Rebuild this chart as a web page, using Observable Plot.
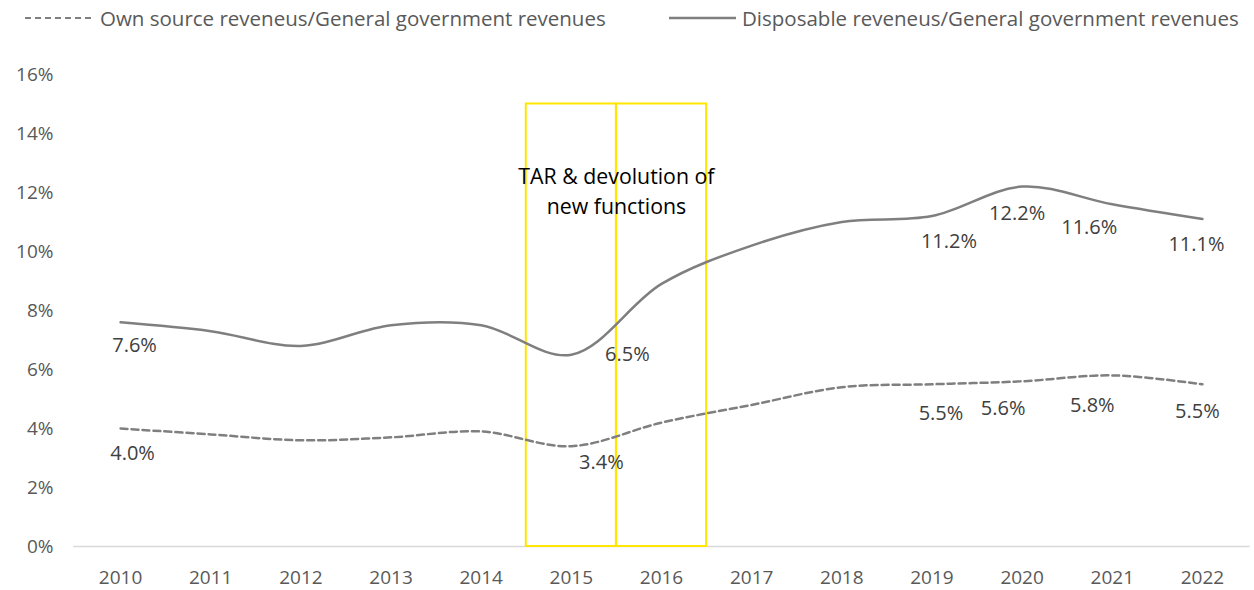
<!DOCTYPE html>
<html>
<head>
<meta charset="utf-8">
<script src="https://cdn.jsdelivr.net/npm/d3@7"></script>
<script src="https://cdn.jsdelivr.net/npm/@observablehq/plot@0.6"></script>
<style>
  html, body { margin: 0; padding: 0; background: #fff; }
  body { width: 1254px; height: 590px; overflow: hidden; font-family: "Open Sans", sans-serif; }
  #legend { position: relative; height: 30px; }
  .item { position: absolute; top: 6px; display: flex; align-items: center; color: #595959; font-size: 20.5px; line-height: 24px; white-space: nowrap; }
  .item svg { margin-right: 6px; }
  #chart svg { display: block; }
</style>
</head>
<body>
<div id="legend"></div>
<div id="chart"></div>
<script>
// ---- data ----
const years = [2010, 2011, 2012, 2013, 2014, 2015, 2016, 2017, 2018, 2019, 2020, 2021, 2022];
const ownSource = [4.0, 3.8, 3.6, 3.7, 3.9, 3.4, 4.2, 4.8, 5.4, 5.5, 5.6, 5.8, 5.5];
const disposable = [7.6, 7.3, 6.8, 7.5, 7.5, 6.5, 8.9, 10.2, 11.0, 11.2, 12.2, 11.6, 11.1];
const labelledYears = [2010, 2015, 2019, 2020, 2021, 2022];
const seriesNames = ["Own source reveneus/General government revenues", "Disposable reveneus/General government revenues"];
const highlightYears = [2015, 2016];
const highlightTop = 15;
const annotation = "TAR & devolution of\nnew functions";
const yTicks = [0, 2, 4, 6, 8, 10, 12, 14, 16];

// ---- tables ----
const rows = [];
years.forEach((yr, i) => {
  rows.push({year: yr, value: ownSource[i], series: seriesNames[0]});
  rows.push({year: yr, value: disposable[i], series: seriesNames[1]});
});
const labelRows = rows.filter(d => labelledYears.includes(d.year));
const spans = highlightYears.map(y => ({x1: y - 0.5, x2: y + 0.5, top: highlightTop}));

// label offsets (style only)
const off = {
  "0-2010": [12, 25], "0-2015": [30, 16], "0-2019": [9, 29], "0-2020": [-19, 27], "0-2021": [-20, 30], "0-2022": [-5, 27],
  "1-2010": [14, 23], "1-2015": [56, 0], "1-2019": [17, 25], "1-2020": [-5, 27], "1-2021": [-23, 23], "1-2022": [-6, 26]
};
const key = d => (d.series === seriesNames[0] ? "0-" : "1-") + d.year;

// ---- legend ----
const legend = document.getElementById("legend");
legend.innerHTML = `
  <div class="item" style="left:25px"><svg width="69" height="10"><line x1="0" y1="5" x2="69" y2="5" stroke="#7f7f7f" stroke-width="2" stroke-dasharray="6,4"/></svg>${seriesNames[0]}</div>
  <div class="item" style="left:669px"><svg width="67" height="10"><line x1="0" y1="5" x2="67" y2="5" stroke="#7f7f7f" stroke-width="2.5"/></svg>${seriesNames[1]}</div>`;

// ---- chart ----
const chart = Plot.plot({
  width: 1254,
  height: 560,
  marginTop: 44,
  marginBottom: 44,
  marginLeft: 75,
  marginRight: 7,
  style: {fontFamily: "Open Sans, sans-serif", background: "#fff"},
  x: {domain: [2009.5, 2022.5], label: null},
  y: {domain: [0, 16], label: null},
  marks: [
    Plot.axisX({ticks: years, tickFormat: d => String(d), tickSize: 0, tickPadding: 24, fontSize: 19, fill: "#595959", label: null}),
    Plot.axisY({ticks: yTicks, tickFormat: d => d + "%", tickSize: 0, tickPadding: 22, fontSize: 19, fill: "#595959", label: null}),
    Plot.ruleY([0], {stroke: "#d9d9d9", strokeWidth: 1.5, x1: 2009.48, x2: 2022.53}),
    Plot.rect(spans, {x1: "x1", x2: "x2", y1: 0, y2: "top", fill: "none", stroke: "#ffe600", strokeWidth: 2}),
    Plot.line(rows.filter(d => d.series === seriesNames[0]), {x: "year", y: "value", curve: "catmull-rom", stroke: "#7f7f7f", strokeWidth: 2.5, strokeDasharray: "7,4"}),
    Plot.line(rows.filter(d => d.series === seriesNames[1]), {x: "year", y: "value", curve: "catmull-rom", stroke: "#7f7f7f", strokeWidth: 2.5}),
    Plot.text(labelRows, {x: "year", y: "value", text: d => d.value.toFixed(1) + "%", fontSize: 20, fill: "#404040"}),
    Plot.text([annotation], {x: 2015.5, y: 12.1, text: d => d, fontSize: 21.3, fill: "#000", lineHeight: 1.38})
  ]
});
document.getElementById("chart").appendChild(chart);
// apply per-label offsets (style only)
const labelGroup = chart.querySelectorAll("g[aria-label='text']")[0];
if (labelGroup) {
  labelGroup.querySelectorAll("text").forEach((t, i) => {
    const [dx, dy] = off[key(labelRows[i])];
    const cur = t.getAttribute("transform") || "";
    t.setAttribute("transform", cur + ` translate(${dx},${dy})`);
  });
}
</script>
</body>
</html>
